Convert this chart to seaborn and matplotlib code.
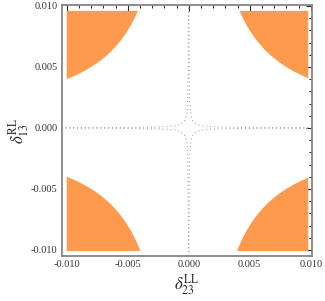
import matplotlib

matplotlib.use("Agg")
import matplotlib.pyplot as plt
import numpy as np
import pandas as pd
import seaborn as sns
from matplotlib.ticker import MultipleLocator, FormatStrFormatter

# region shown in orange: |delta23 * delta13| above this bound
ORANGE_BOUND = 4.0e-5
# dotted contour level of |delta23 * delta13|
DOTTED_LEVEL = 2.0e-7

X_RANGE = [-0.01041, 0.01008]
Y_RANGE = [-0.0105, 0.01008]
REGION_X = [-0.0100, 0.0098]
REGION_Y = [-0.0101, 0.0096]

MAJOR_TICKS = [-0.010, -0.005, 0.000, 0.005, 0.010]

ORANGE = "#fe9a4e"
DOT_GRAY = "#a8a8a8"
FRAME_GRAY = "#858585"


def main() -> None:
    sns.set_style("white")
    plt.rcParams["font.family"] = ["Liberation Serif", "DejaVu Serif"]
    plt.rcParams["mathtext.fontset"] = "stix"

    fig = plt.figure(figsize=(3.25, 3.01), dpi=100)
    ax = fig.add_axes([0.19, 0.1495, 0.769, 0.8339])

    # orange corner regions
    gx = np.linspace(REGION_X[0], REGION_X[1], 1200)
    gy = np.linspace(REGION_Y[0], REGION_Y[1], 1200)
    xx, yy = np.meshgrid(gx, gy)
    prod = np.abs(xx * yy)
    ax.contourf(xx, yy, prod, levels=[ORANGE_BOUND, 1.0], colors=[ORANGE], antialiased=True)

    # dotted hyperbola branches
    t = np.geomspace(DOTTED_LEVEL / 0.0105, 0.0105, 600)
    rows = []
    for i, (sx, sy) in enumerate([(1, 1), (-1, 1), (-1, -1), (1, -1)]):
        rows.append(pd.DataFrame({"x": sx * t, "y": sy * DOTTED_LEVEL / t, "branch": i}))
    curves = pd.concat(rows, ignore_index=True)
    for _, part in curves.groupby("branch"):
        sns.lineplot(
            data=part, x="x", y="y", sort=False, estimator=None, ax=ax,
            color=DOT_GRAY, linewidth=0.8, linestyle=(0, (1, 2.5)),
        )

    ax.set_xlim(X_RANGE)
    ax.set_ylim(Y_RANGE)
    ax.xaxis.set_major_locator(plt.FixedLocator(MAJOR_TICKS))
    ax.yaxis.set_major_locator(plt.FixedLocator(MAJOR_TICKS))
    ax.xaxis.set_minor_locator(MultipleLocator(0.001))
    ax.yaxis.set_minor_locator(MultipleLocator(0.001))
    ax.xaxis.set_major_formatter(FormatStrFormatter("%.3f"))
    ax.yaxis.set_major_formatter(FormatStrFormatter("%.3f"))
    ax.tick_params(which="both", direction="in", top=True, right=True,
                   color="#222222", labelsize=7.5, labelcolor="#333333", pad=3)
    ax.tick_params(which="major", length=4, width=0.8)
    ax.tick_params(which="minor", length=2.3, width=0.7)
    for spine in ax.spines.values():
        spine.set_color(FRAME_GRAY)
        spine.set_linewidth(1.3)

    ax.set_xlabel(r"$\delta^{\rm LL}_{23}$", fontsize=12, labelpad=2)
    ax.set_ylabel(r"$\delta^{\rm RL}_{13}$", fontsize=12, labelpad=0)

    fig.savefig("out.png", dpi=100)
    plt.close(fig)


if __name__ == "__main__":
    main()
